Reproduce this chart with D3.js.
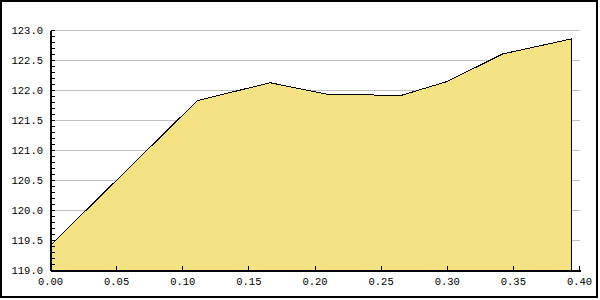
<!DOCTYPE html>
<html>
<head>
<meta charset="utf-8">
<script src="https://cdn.jsdelivr.net/npm/d3@7"></script>
<style>
  body { margin: 0; background: #fff; }
  svg text { font-family: "Liberation Mono", "DejaVu Sans Mono", monospace; font-size: 10.5px; fill: #000; }
</style>
</head>
<body>
<div id="chart"></div>
<script>
// values
const xValues = [0, 0.111, 0.166, 0.211, 0.238, 0.264, 0.30, 0.342, 0.394];
const yValues = [119.42, 121.83, 122.13, 121.93, 121.93, 121.91, 122.15, 122.61, 122.86];
const xTicks = [0, 0.05, 0.10, 0.15, 0.20, 0.25, 0.30, 0.35, 0.40];
const yTicks = [119.0, 119.5, 120.0, 120.5, 121.0, 121.5, 122.0, 122.5, 123.0];

let width = 600, height = 300;

let svg = d3.select("#chart").append("svg")
    .attr("width", width)
    .attr("height", height);

let x = d3.scaleLinear().domain([0, 0.4]).range([50.5, 579.5]);
let y = d3.scaleLinear().domain([119, 123]).range([270.5, 30.5]);

let data = xValues.map(function(v, i) { return { x: v, y: yValues[i] }; });

// outer frame
svg.append("rect")
    .attr("x", 1).attr("y", 1)
    .attr("width", 596).attr("height", 296)
    .attr("fill", "none")
    .attr("stroke", "#000")
    .attr("stroke-width", 2);

// grid lines
svg.append("g").selectAll("line")
    .data(yTicks.slice(1))
    .enter().append("line")
    .attr("x1", x(0)).attr("x2", x(0.4))
    .attr("y1", d => y(d)).attr("y2", d => y(d))
    .attr("stroke", "#c0c0c0")
    .attr("shape-rendering", "crispEdges");

// area
let area = d3.area()
    .x(d => x(d.x))
    .y0(y(119))
    .y1(d => y(d.y));

svg.append("path")
    .datum(data)
    .attr("d", area)
    .attr("fill", "#f5e285")
    .attr("stroke", "none");

let outline = data.map(d => [x(d.x), y(d.y)]);
let last = data[data.length - 1];
outline.push([x(last.x), y(119)]);

svg.append("path")
    .attr("d", d3.line()(outline))
    .attr("fill", "none")
    .attr("stroke", "#000")
    .attr("shape-rendering", "crispEdges");

// y axis
let yAxis = svg.append("g");
yAxis.append("line")
    .attr("x1", x(0)).attr("x2", x(0))
    .attr("y1", y(123)).attr("y2", y(119))
    .attr("stroke", "#000").attr("stroke-width", 2)
    .attr("shape-rendering", "crispEdges");

let minor = d3.range(119, 123.0001, 0.1);
yAxis.selectAll("line.minor")
    .data(minor)
    .enter().append("line")
    .attr("class", "minor")
    .attr("x1", x(0)).attr("x2", x(0) + 4)
    .attr("y1", d => Math.round(y(d) - 0.5) + 0.5)
    .attr("y2", d => Math.round(y(d) - 0.5) + 0.5)
    .attr("stroke", "#000")
    .attr("shape-rendering", "crispEdges");

yAxis.selectAll("text")
    .data(yTicks)
    .enter().append("text")
    .attr("x", 43)
    .attr("y", d => y(d))
    .attr("dy", "0.35em")
    .attr("text-anchor", "end")
    .text(d => d3.format(".1f")(d));

// x axis
let xAxis = svg.append("g");
xAxis.append("line")
    .attr("x1", x(0)).attr("x2", x(0.4) + 1)
    .attr("y1", y(119)).attr("y2", y(119))
    .attr("stroke", "#000").attr("stroke-width", 2)
    .attr("shape-rendering", "crispEdges");

xAxis.selectAll("line.tick")
    .data(xTicks)
    .enter().append("line")
    .attr("class", "tick")
    .attr("x1", d => x(d)).attr("x2", d => x(d))
    .attr("y1", y(119)).attr("y2", y(119) - 5)
    .attr("stroke", "#000")
    .attr("shape-rendering", "crispEdges");

xAxis.selectAll("text")
    .data(xTicks)
    .enter().append("text")
    .attr("x", d => x(d))
    .attr("y", 285)
    .attr("text-anchor", "middle")
    .text(d => d3.format(".2f")(d));
</script>
</body>
</html>
